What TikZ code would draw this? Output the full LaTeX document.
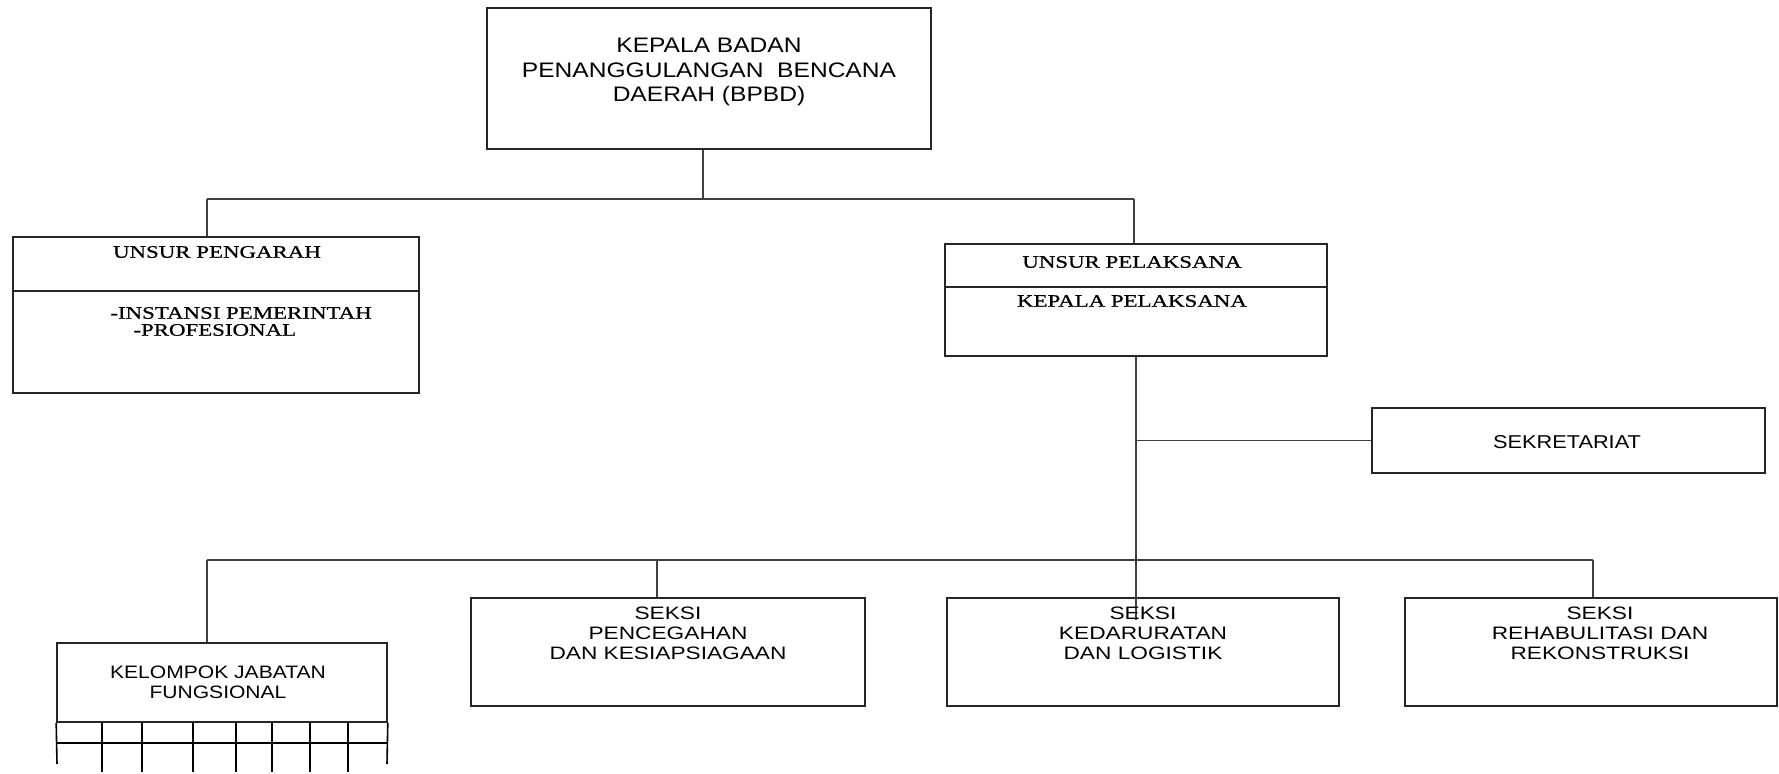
\documentclass[tikz,border=0pt]{standalone}
\usepackage{fontspec}
\newfontfamily\arialx[FakeStretch=1.17]{Liberation Sans}
\newfontfamily\seksifont[FakeStretch=1.26]{Liberation Sans}
\newfontfamily\timesx[FakeStretch=1.3,FakeBold=0.8]{Liberation Serif}
\usetikzlibrary{fit}
\begin{document}
\begin{tikzpicture}[x=0.5pt,y=-0.5pt,
  box/.style={draw=black!85, line width=0.8pt, inner sep=0pt},
  conn/.style={draw=black!75, line width=0.8pt},
  gridline/.style={draw=black, line width=0.8pt},
  toptext/.style={align=center, inner sep=0pt, font=\arialx\fontsize{10.5pt}{12.25pt}\selectfont},
  sektext/.style={align=center, inner sep=0pt, font=\arialx\fontsize{9.3pt}{11pt}\selectfont},
  seksitext/.style={align=center, inner sep=0pt, font=\seksifont\fontsize{9pt}{10pt}\selectfont},
  kelText/.style={align=center, inner sep=0pt, font=\arialx\fontsize{9pt}{10pt}\selectfont},
  serif/.style={inner sep=0pt, font=\timesx\fontsize{8.8pt}{10pt}\selectfont}]
\useasboundingbox (0,0) rectangle (1779,774);

% boxes
\node[box, fit={(487,8) (931,149)}] (kepala) {};
\node[box, fit={(13,237) (419,393)}] (pengarah) {};
\node[box, fit={(945,244) (1327,356)}] (pelaksana) {};
\node[box, fit={(1372,408) (1765,473)}] (sekretariat) {};
\node[box, fit={(57,643) (387,722)}] (kelompok) {};
\node[box, fit={(471,598) (865,706)}] (pencegahan) {};
\node[box, fit={(947,598) (1339,706)}] (kedaruratan) {};
\node[box, fit={(1405,598) (1777,706)}] (rehab) {};

% dividers
\draw[box] (pengarah.west |- 0,291) -- (pengarah.east |- 0,291);
\draw[box] (pelaksana.west |- 0,287) -- (pelaksana.east |- 0,287);

% kelompok grid
\draw[gridline] (kelompok.south west) -- (57,764);
\draw[gridline] (kelompok.south east) -- (387,764);
\draw[gridline] (57,743) -- (387,743);
\foreach \gx in {102,142,193,236,272,310,348}
  \draw[gridline] (\gx,722) -- (\gx,772);

% connectors
\coordinate (j1) at (703,199);
\coordinate (jl) at (207,199);
\coordinate (jr) at (1134,199);
\draw[conn] (j1 |- kepala.south) -- (j1);
\draw[conn] (jl) -- (jr);
\draw[conn] (jl) -- (jl |- pengarah.north);
\draw[conn] (jr) -- (jr |- pelaksana.north);

\coordinate (sp) at (1136,620);
\draw[conn] (sp |- pelaksana.south) -- (sp);
\draw[conn] (sekretariat.west) -- (sekretariat.west -| sp);

\coordinate (bl) at (207,560);
\coordinate (bp) at (657,560);
\coordinate (br) at (1593,560);
\draw[conn] (bl) -- (br);
\draw[conn] (bl) -- (bl |- kelompok.north);
\draw[conn] (bp) -- (bp |- pencegahan.north);
\draw[conn] (br) -- (br |- rehab.north);

% texts
\node[toptext] (tkepala) at (709,72) {KEPALA BADAN\\PENANGGULANGAN\ \ BENCANA\\DAERAH (BPBD)};
\node[serif] (tpengarah) at (217,252) {UNSUR PENGARAH};
\node[serif, anchor=west] (tinstansi) at (110,313) {-INSTANSI PEMERINTAH};
\node[serif, anchor=west] (tprof) at (133,330) {-PROFESIONAL};
\node[serif] (tunsurpel) at (1132,262) {UNSUR PELAKSANA};
\node[serif] (tkeppel) at (1132,301) {KEPALA PELAKSANA};
\node[sektext] (tsek) at (1567,442) {SEKRETARIAT};
\node[kelText] (tkel) at (218,682) {KELOMPOK JABATAN\\FUNGSIONAL};
\node[seksitext] (tpen) at (668,633) {SEKSI\\PENCEGAHAN\\DAN KESIAPSIAGAAN};
\node[seksitext] (tked) at (1143,633) {SEKSI\\KEDARURATAN\\DAN LOGISTIK};
\node[seksitext] (treh) at (1600,633) {SEKSI\\REHABULITASI DAN\\REKONSTRUKSI};
\end{tikzpicture}
\end{document}
